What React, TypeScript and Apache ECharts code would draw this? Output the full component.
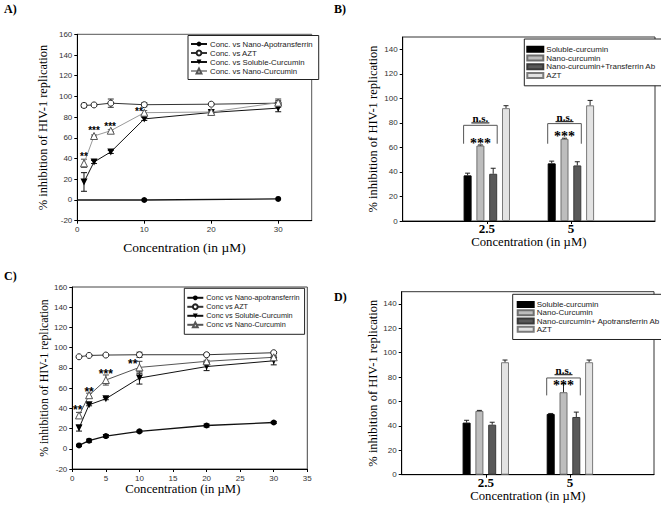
import React, { useEffect, useRef } from 'react';
import * as echarts from 'echarts';

const SANS = "'Liberation Sans Narrow','Arial Narrow','Liberation Sans',Arial,sans-serif";
const SERIF = "'Liberation Serif','Times New Roman',Times,serif";

// ---------- Panel A (line) ----------
const concA = [1, 2.5, 5, 10, 20, 30];
const apoAx = [0, 10, 30];
const apoAy = [0, 0, 1];
const aztA = [91.3, 91.8, 93.5, 92, 92.5, 93.5];
const aztAerr = [2, 1.5, 4, 2, 1, 4];
const solA = [17.4, 36.7, 46.4, 78.3, 84.5, 88.7];
const solAerr = [9, 1.5, 1.5, 1.5, 1, 3.5];
const nanoA = [35.4, 61.8, 66.9, 84.3, 85, 94];
const nanoAerr = [4, 1, 1, 2, 1, 2];
const starsAx = [1, 2.5, 4.9, 9.2];
const starsAy = [44, 69, 73.5, 88];
const starsAt = ['**', '***', '***', '**'];
const namesA = ['Conc. vs Nano-Apotransferrin', 'Conc. vs AZT', 'Conc. vs Soluble-Curcumin', 'Conc. vs Nano-Curcumin'];

// ---------- Panel C (line) ----------
const concC = [1, 2.5, 5, 10, 20, 30];
const apoC = [3.3, 8, 12.6, 17.2, 23, 26];
const apoCerr = [1, 1.5, 1.5, 1, 1.5, 1];
const aztC = [91, 92.3, 92.7, 93, 93, 95];
const aztCerr = [1, 1, 1, 2.5, 1, 1];
const solC = [20.5, 43.5, 49.5, 70, 81.3, 87];
const solCerr = [3, 1, 1, 6, 4, 4];
const nanoC = [33, 53, 68, 80.5, 86.5, 90.5];
const nanoCerr = [3, 2, 5, 6, 1, 1.5];
const starsCx = [0.8, 2.5, 5, 9];
const starsCy = [40.5, 59, 77, 86];
const starsCt = ['**', '**', '***', '**'];
const namesC = ['Conc vs Nano-apotransferrin', 'Conc vs AZT', 'Conc vs Soluble-Curcumin', 'Conc vs Nano-Curcumin'];

// ---------- Panels B & D (bars) ----------
const groupX = [1, 2];
const groupLabels = ['2.5', '5'];
const namesB = ['Soluble-curcumin', 'Nano-curcumin', 'Nano-curcumin+Transferrin Ab', 'AZT'];
const solB = [37.2, 47];
const solBerr = [1.8, 1.8];
const nanoB = [61.5, 67];
const nanoBerr = [0.5, 0.5];
const tfB = [38.5, 45.3];
const tfBerr = [4.5, 3];
const aztB = [92, 94.3];
const aztBerr = [2, 4];
const brBx = [1, 2];
const brBtop = [78, 79.4];
const brBleg = [63, 63];
const brBstar = [66, 71];
const brBns = [84, 85];
const brBsig = ['***', '***'];
const brBns_t = ['n.s.', 'n.s.'];

const namesD = ['Soluble-curcumin', 'Nano-Curcumin', 'Nano-curcumin+ Apotransferrin Ab', 'AZT'];
const solD = [42.7, 49.8];
const solDerr = [1.9, 0.4];
const nanoD = [52.3, 67.6];
const nanoDerr = [0.4, 7];
const apoD = [41, 47.3];
const apoDerr = [2, 4];
const aztD = [92.2, 92.2];
const aztDerr = [1.8, 1.8];
const brDx = [2];
const brDtop = [79.3];
const brDleg = [65];
const brDstar = [75.5];
const brDns = [86];
const brDsig = ['***'];
const brDns_t = ['n.s.'];

const barColors = ['#000000', '#bdbdbd', '#595959', '#e3e3e3'];
const barBorders = ['#000000', '#6e6e6e', '#3a3a3a', '#7a7a7a'];

const BAR_W = 8;
const BAR_GAP = 0.6;
const barOffset = (i: number) => (i - 1.5) * BAR_W * (1 + BAR_GAP);

const pairs = (xs: number[], ys: number[]) => xs.map((x, i) => [x, ys[i]]);
const triples = (xs: number[], ys: number[], es: number[]) => xs.map((x, i) => [x, ys[i], es[i]]);

function errLine(color: string, cap: number) {
  return (params: any, api: any) => {
    const x = api.value(0), y = api.value(1), e = api.value(2);
    const hi = api.coord([x, y + e]);
    const lo = api.coord([x, y - e]);
    const st = { stroke: color, lineWidth: 1 };
    return {
      type: 'group',
      children: [
        { type: 'line', shape: { x1: hi[0], y1: hi[1], x2: lo[0], y2: lo[1] }, style: st },
        { type: 'line', shape: { x1: hi[0] - cap / 2, y1: hi[1], x2: hi[0] + cap / 2, y2: hi[1] }, style: st },
        { type: 'line', shape: { x1: lo[0] - cap / 2, y1: lo[1], x2: lo[0] + cap / 2, y2: lo[1] }, style: st },
      ],
    };
  };
}

function errBar(idx: number, color: string, cap: number) {
  return (params: any, api: any) => {
    const x = api.value(0), y = api.value(1), e = api.value(2);
    const a = api.coord([x, y]);
    const b = api.coord([x, y + e]);
    const px = a[0] + barOffset(idx);
    const st = { stroke: color, lineWidth: 1 };
    return {
      type: 'group',
      children: [
        { type: 'line', shape: { x1: px, y1: a[1], x2: px, y2: b[1] }, style: st },
        { type: 'line', shape: { x1: px - cap / 2, y1: b[1], x2: px + cap / 2, y2: b[1] }, style: st },
      ],
    };
  };
}

function starsRender(texts: string[], size: number) {
  return (params: any, api: any) => {
    const p = api.coord([api.value(0), api.value(1)]);
    return {
      type: 'text',
      x: p[0],
      y: p[1] + size * 0.22,
      style: {
        text: texts[params.dataIndex],
        fontSize: size,
        fontWeight: 'bold',
        fontFamily: 'Liberation Sans, Arial, sans-serif',
        fill: '#000',
        align: 'center',
        verticalAlign: 'middle',
      },
    };
  };
}

function bracketRender(sig: string[], ns: string[]) {
  return (params: any, api: any) => {
    const i = params.dataIndex;
    const gx = api.value(0);
    const pTop = api.coord([gx, api.value(1)]);
    const pLeg = api.coord([gx, api.value(2)]);
    const pStar = api.coord([gx, api.value(3)]);
    const pNs = api.coord([gx, api.value(4)]);
    const xl = pTop[0] + barOffset(0) - BAR_W / 2;
    const xr = pTop[0] + barOffset(2) + BAR_W / 2;
    const xm = pTop[0] + barOffset(1);
    const nsSize = 11;
    return {
      type: 'group',
      children: [
        {
          type: 'polyline',
          shape: { points: [[xl, pLeg[1]], [xl, pTop[1]], [xr, pTop[1]], [xr, pLeg[1]]] },
          style: { stroke: '#555', lineWidth: 1, fill: null },
        },
        {
          type: 'text',
          x: xm,
          y: pStar[1] + 14 * 0.22,
          style: { text: sig[i], fontSize: 14, fontWeight: 'bold', fontFamily: SERIF, fill: '#000', align: 'center', verticalAlign: 'middle' },
        },
        {
          type: 'text',
          x: xm,
          y: pNs[1],
          style: { text: ns[i], fontSize: nsSize, fontWeight: 'bold', fontFamily: SERIF, fill: '#000', align: 'center', verticalAlign: 'middle' },
        },
        {
          type: 'line',
          shape: { x1: xm - 9, y1: pNs[1] + nsSize * 0.45, x2: xm + 9, y2: pNs[1] + nsSize * 0.45 },
          style: { stroke: '#000', lineWidth: 1 },
        },
      ],
    };
  };
}

const axisLabelStyle = { fontSize: 8, fontFamily: SANS, color: '#333' };

function lineAxes(grid: number, xInterval: number, hideMax: boolean, xNameGap: number, xNamePad: number, yNameGap: number, yNameFs: number, xNameFs: number) {
  const x = {
    type: 'value', gridIndex: grid, min: 0, max: 35, interval: xInterval,
    name: 'Concentration (in µM)', nameLocation: 'middle', nameGap: xNameGap,
    nameTextStyle: { fontFamily: SERIF, fontSize: xNameFs, color: '#000', padding: [0, xNamePad, 0, 0] },
    axisLine: { onZero: false, lineStyle: { color: '#000', width: 1 } },
    axisTick: { inside: false, length: 3, lineStyle: { color: '#000' } },
    axisLabel: { ...axisLabelStyle, margin: 5, showMaxLabel: !hideMax },
    splitLine: { show: false },
  };
  const y = {
    type: 'value', gridIndex: grid, min: -20, max: 160, interval: 20,
    name: '% inhibition of HIV-1 replication', nameLocation: 'middle', nameGap: yNameGap, nameRotate: 90,
    nameTextStyle: { fontFamily: SERIF, fontSize: yNameFs, color: '#000' },
    axisLine: { onZero: false, lineStyle: { color: '#000', width: 1 } },
    axisTick: { inside: false, length: 3, lineStyle: { color: '#000' } },
    axisLabel: { ...axisLabelStyle, margin: 5 },
    splitLine: { show: false },
  };
  return { x, y };
}

function barAxes(grid: number, xNameGap: number, yNameGap: number) {
  const x = {
    type: 'value', gridIndex: grid, min: 0, max: 3,
    name: 'Concentration (in µM)', nameLocation: 'middle', nameGap: xNameGap,
    nameTextStyle: { fontFamily: SERIF, fontSize: 12.7, color: '#000' },
    axisLine: { onZero: false, lineStyle: { color: '#000', width: 1 } },
    axisTick: { show: true, customValues: groupX, length: 3, lineStyle: { color: '#000' } },
    axisLabel: {
      customValues: groupX,
      formatter: (v: number) => groupLabels[groupX.indexOf(v)] ?? '',
      fontFamily: SERIF, fontSize: 13, fontWeight: 'bold', color: '#000', margin: 1,
    },
    splitLine: { show: false },
  };
  const y = {
    type: 'value', gridIndex: grid, min: 0, max: 150, interval: 20,
    name: '% inhibition of HIV-1 replication', nameLocation: 'middle', nameGap: yNameGap, nameRotate: 90,
    nameTextStyle: { fontFamily: SERIF, fontSize: 12.5, color: '#000' },
    axisLine: { onZero: false, lineStyle: { color: '#000', width: 1 } },
    axisTick: { inside: false, length: 3, lineStyle: { color: '#000' } },
    axisLabel: { ...axisLabelStyle, margin: 5, showMaxLabel: false },
    splitLine: { show: false },
  };
  return { x, y };
}

function lineSeries(grid: number, names: string[], apo: any[], azt: number[][], sol: number[][], nano: number[][], nanoLine: string) {
  const base = { type: 'line', xAxisIndex: grid, yAxisIndex: grid, z: 3, showAllSymbol: true, emphasis: { disabled: true } };
  return [
    { ...base, name: names[0], data: apo, symbol: 'circle', symbolSize: 6, itemStyle: { color: '#000' }, lineStyle: { color: '#111', width: 1.3 } },
    { ...base, name: names[1], data: azt, symbol: 'circle', symbolSize: 6, itemStyle: { color: '#fff', borderColor: '#222', borderWidth: 1 }, lineStyle: { color: '#333', width: 1 } },
    { ...base, name: names[2], data: sol, symbol: 'triangle', symbolRotate: 180, symbolSize: 7, itemStyle: { color: '#000' }, lineStyle: { color: '#111', width: 1 } },
    { ...base, name: names[3], data: nano, symbol: 'triangle', symbolSize: 7, itemStyle: { color: '#fff', borderColor: '#555', borderWidth: 1 }, lineStyle: { color: nanoLine, width: 1 } },
  ];
}

function errSeries(grid: number, data: number[][], color: string, cap: number) {
  return { type: 'custom', xAxisIndex: grid, yAxisIndex: grid, z: 2, silent: true, data, renderItem: errLine(color, cap) };
}

function barSeries(grid: number, names: string[], vals: number[][]) {
  return vals.map((v, i) => ({
    type: 'bar', name: names[i], xAxisIndex: grid, yAxisIndex: grid,
    data: pairs(groupX, v), barWidth: BAR_W, barGap: `${BAR_GAP * 100}%`,
    itemStyle: { color: barColors[i], borderColor: barBorders[i], borderWidth: 1 },
    emphasis: { disabled: true },
  }));
}

function barErrSeries(grid: number, vals: number[][], errs: number[][]) {
  return vals.map((v, i) => ({
    type: 'custom', xAxisIndex: grid, yAxisIndex: grid, z: 4, silent: true,
    data: triples(groupX, v, errs[i]), renderItem: errBar(i, '#222', 5),
  }));
}

function legendCfg(names: string[], left: number, top: number, rowH: number, pad: number[], fs: number, icon?: string, itemH = 5) {
  const l: any = {
    data: names, orient: 'vertical', left, top, itemWidth: 16, itemHeight: itemH, itemGap: 0,
    padding: pad, borderColor: '#222', borderWidth: 1, backgroundColor: '#fff', selectedMode: false,
    textStyle: { fontSize: fs, fontFamily: SANS, color: '#222', lineHeight: rowH, padding: [0, 0, 0, -2] },
  };
  if (icon) l.icon = icon;
  return l;
}

export default function App() {
  const ref = useRef<HTMLDivElement>(null);
  useEffect(() => {
    if (!ref.current) return;
    const chart = echarts.init(ref.current, undefined, { renderer: 'svg' });
    const A = lineAxes(0, 10, true, 20, 20, 28, 12.4, 13.5);
    const B = barAxes(1, 12, 23);
    const C = lineAxes(2, 5, false, 8, 14, 20, 11.8, 12.7);
    const D = barAxes(3, 14, 20);

    const apoAdata: any[] = apoAx.map((x, i) => (i === 0 ? { value: [x, apoAy[i]], symbol: 'none' } : [x, apoAy[i]]));

    const option: any = {
      animation: false,
      backgroundColor: '#fff',
      grid: [
        { left: 77.3, top: 34.3, width: 234.4, height: 186.4, show: true, borderColor: '#555', borderWidth: 1 },
        { left: 402.7, top: 37, width: 252.3, height: 184, show: true, borderColor: '#333', borderWidth: 1 },
        { left: 72.3, top: 287, width: 235, height: 182, show: true, borderColor: '#444', borderWidth: 1 },
        { left: 401.7, top: 291.7, width: 252.3, height: 183, show: true, borderColor: '#333', borderWidth: 1 },
      ],
      xAxis: [A.x, B.x, C.x, D.x],
      yAxis: [A.y, B.y, C.y, D.y],
      legend: [
        legendCfg(namesA, 188, 35.5, 9, [4, 6, 4, 2], 7.8, undefined, 6),
        legendCfg(namesB, 524.3, 39, 8.7, [6, 8, 6, 2], 8, 'rect', 5),
        legendCfg(namesC, 184.3, 288.3, 9, [5, 5, 5, 2], 7.3, undefined, 6),
        legendCfg(namesD, 512.7, 294.3, 8.3, [6, 6, 6, 4], 8, 'rect', 5),
      ],
      graphic: [
        { type: 'text', x: 4, y: 9, style: { text: 'A)', fontSize: 12, fontWeight: 'bold', fontFamily: SERIF, fill: '#000', verticalAlign: 'middle' } },
        { type: 'text', x: 334, y: 9, style: { text: 'B)', fontSize: 12, fontWeight: 'bold', fontFamily: SERIF, fill: '#000', verticalAlign: 'middle' } },
        { type: 'text', x: 4, y: 276, style: { text: 'C)', fontSize: 12, fontWeight: 'bold', fontFamily: SERIF, fill: '#000', verticalAlign: 'middle' } },
        { type: 'text', x: 334, y: 297, style: { text: 'D)', fontSize: 12, fontWeight: 'bold', fontFamily: SERIF, fill: '#000', verticalAlign: 'middle' } },
      ],
      series: [
        ...lineSeries(0, namesA, apoAdata, pairs(concA, aztA), pairs(concA, solA), pairs(concA, nanoA), '#999'),
        errSeries(0, triples(concA, aztA, aztAerr), '#333', 6),
        errSeries(0, triples(concA, solA, solAerr), '#111', 6),
        errSeries(0, triples(concA, nanoA, nanoAerr), '#555', 6),
        { type: 'custom', xAxisIndex: 0, yAxisIndex: 0, z: 5, silent: true, data: pairs(starsAx, starsAy), renderItem: starsRender(starsAt, 10) },

        ...lineSeries(2, namesC, pairs(concC, apoC), pairs(concC, aztC), pairs(concC, solC), pairs(concC, nanoC), '#555'),
        errSeries(2, triples(concC, apoC, apoCerr), '#111', 6),
        errSeries(2, triples(concC, aztC, aztCerr), '#333', 6),
        errSeries(2, triples(concC, solC, solCerr), '#111', 6),
        errSeries(2, triples(concC, nanoC, nanoCerr), '#444', 6),
        { type: 'custom', xAxisIndex: 2, yAxisIndex: 2, z: 5, silent: true, data: pairs(starsCx, starsCy), renderItem: starsRender(starsCt, 12) },

        ...barSeries(1, namesB, [solB, nanoB, tfB, aztB]),
        ...barErrSeries(1, [solB, nanoB, tfB, aztB], [solBerr, nanoBerr, tfBerr, aztBerr]),
        {
          type: 'custom', xAxisIndex: 1, yAxisIndex: 1, z: 5, silent: true,
          data: brBx.map((x, i) => [x, brBtop[i], brBleg[i], brBstar[i], brBns[i]]),
          renderItem: bracketRender(brBsig, brBns_t),
        },

        ...barSeries(3, namesD, [solD, nanoD, apoD, aztD]),
        ...barErrSeries(3, [solD, nanoD, apoD, aztD], [solDerr, nanoDerr, apoDerr, aztDerr]),
        {
          type: 'custom', xAxisIndex: 3, yAxisIndex: 3, z: 5, silent: true,
          data: brDx.map((x, i) => [x, brDtop[i], brDleg[i], brDstar[i], brDns[i]]),
          renderItem: bracketRender(brDsig, brDns_t),
        },
      ],
    };
    chart.setOption(option);
    return () => chart.dispose();
  }, []);
  return <div ref={ref} style={{ position: 'absolute', left: 0, top: 0, width: 661, height: 514 }} />;
}
